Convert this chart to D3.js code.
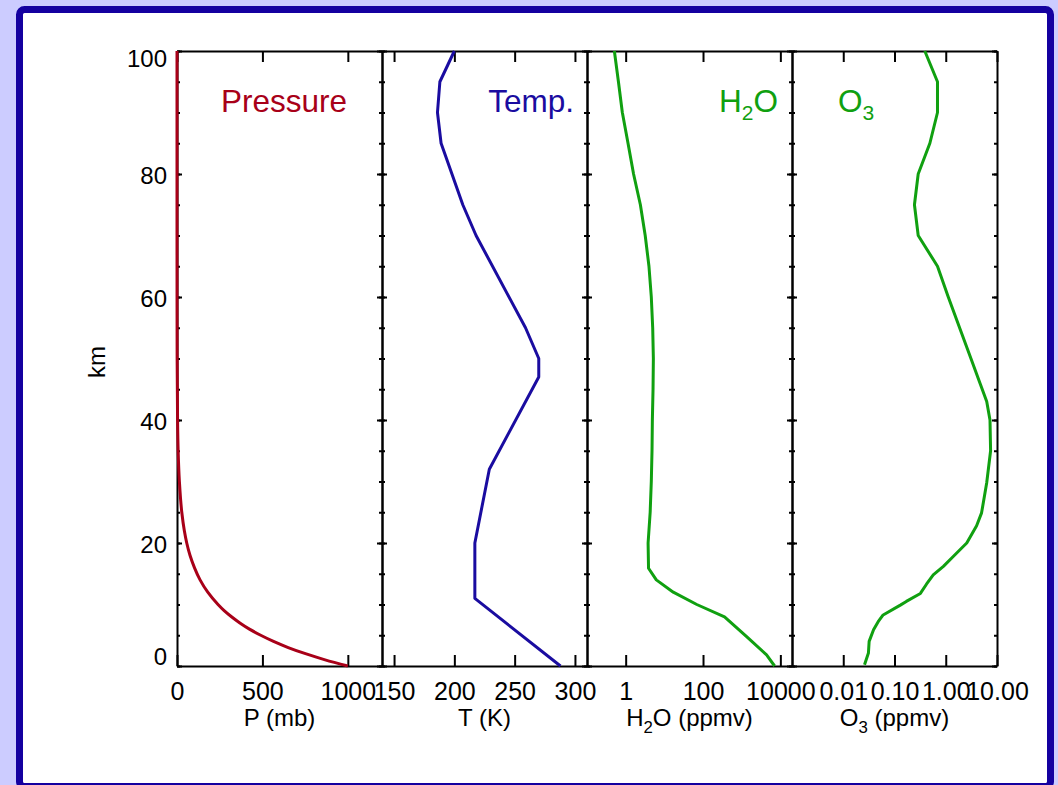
<!DOCTYPE html>
<html>
<head>
<meta charset="utf-8">
<script src="https://cdn.jsdelivr.net/npm/d3@7"></script>
<style>
  html, body { margin: 0; padding: 0; background: #ccccff; }
  svg { display: block; }
  text { font-family: "Liberation Sans", Arial, Helvetica, sans-serif; }
</style>
</head>
<body>
<svg id="chart" width="1058" height="785"></svg>
<script>
// ---------------- data ----------------
const altitude = [0, 100];                         // km range
const altTicks = [0, 20, 40, 60, 80, 100];
const altMinorTicks = d3.range(0, 101, 5);

// Pressure profile (mb) vs altitude (km)
const presAlt = [0, 1, 2, 3, 4, 5, 6, 7, 8, 9, 10, 12, 14, 16, 18, 20, 22, 25, 30, 35, 40, 50, 60, 70, 80, 90, 100];
const presVal = [1000, 867, 752, 651, 565, 490, 424, 368, 319, 276, 240, 180, 135, 102, 76, 57, 43, 28, 14, 6.7, 3.3, 0.8, 0.19, 0.05, 0.011, 0.0026, 0.0006];
const presTicks = [0, 500, 1000];
const presTickLabels = ["0", "500", "1000"];

// Temperature profile (K)
const tempAlt = [0, 11, 20, 32, 47, 50, 55, 70, 75, 85, 90, 95, 100];
const tempVal = [288, 217, 217, 229, 270, 270, 259, 218, 207, 189, 186, 188, 200];
const tempTicks = [150, 200, 250, 300];
const tempTickLabels = ["150", "200", "250", "300"];

// Water vapour (ppmv)
const h2oAlt = [0, 1.8, 4.8, 8, 10, 12, 14, 15.9, 20, 25, 30, 35, 40, 45, 50, 55, 60, 65, 70, 75, 80, 85, 90, 95, 100];
const h2oVal = [7100, 4400, 1320, 360, 69, 17, 6.2, 3.9, 3.8, 4.3, 4.6, 4.8, 4.9, 5.1, 5.2, 5.0, 4.6, 4.0, 3.2, 2.4, 1.6, 1.15, 0.82, 0.65, 0.51];
const h2oTicks = [1, 100, 10000];
const h2oTickLabels = ["1", "100", "10000"];

// Ozone (ppmv)
const o3Alt = [0.2, 2.1, 4, 5.9, 7.2, 8.3, 9.9, 10.5, 11.8, 13.3, 14.8, 16.2, 17.8, 20, 22.8, 24.9, 29.8, 35, 40, 43, 45.9, 50, 54.1, 60, 65, 70, 75, 80, 85, 90, 95, 100];
const o3Val = [0.026, 0.031, 0.032, 0.039, 0.048, 0.06, 0.13, 0.17, 0.32, 0.42, 0.57, 0.9, 1.4, 2.57, 4.0, 5.0, 6.3, 7.5, 7.3, 6.3, 4.7, 3.1, 2.04, 1.12, 0.69, 0.29, 0.245, 0.29, 0.49, 0.69, 0.69, 0.39];
const o3Ticks = [0.01, 0.1, 1, 10];
const o3TickLabels = ["0.01", "0.10", "1.00", "10.00"];

// ---------------- layout ----------------
const svg = d3.select("#chart");
const plotTop = 51, plotBottom = 666;
const edges = [177, 382, 587, 792, 997];

// frame
svg.append("rect").attr("x", 0).attr("y", 0).attr("width", 1058).attr("height", 785).attr("fill", "#ccccff");
svg.append("rect")
  .attr("x", 19.5).attr("y", 9.5).attr("width", 1031).attr("height", 777)
  .attr("rx", 5).attr("ry", 5)
  .attr("fill", "#ffffff").attr("stroke", "#1400a0").attr("stroke-width", 7);

const y = d3.scaleLinear().domain(altitude).range([plotBottom, plotTop]);

const panels = [
  { x: d3.scaleLinear().domain([0, 1200]), alt: presAlt, val: presVal, ticks: presTicks, labels: presTickLabels, color: "#a80018", curve: d3.curveMonotoneY },
  { x: d3.scaleLinear().domain([140, 310]), alt: tempAlt, val: tempVal, ticks: tempTicks, labels: tempTickLabels, color: "#1a0ca0", curve: d3.curveLinear },
  { x: d3.scaleLog().domain([0.1, 20000]), alt: h2oAlt, val: h2oVal, ticks: h2oTicks, labels: h2oTickLabels, color: "#10a010", curve: d3.curveLinear },
  { x: d3.scaleLog().domain([0.001, 10]), alt: o3Alt, val: o3Val, ticks: o3Ticks, labels: o3TickLabels, color: "#10a010", curve: d3.curveLinear }
];

panels.forEach((p, i) => {
  p.x.range([edges[i], edges[i + 1]]);
  const g = svg.append("g");

  // bottom axis with labels (ticks pointing up)
  const bAxis = d3.axisBottom(p.x).tickValues(p.ticks)
    .tickFormat((d, k) => p.labels[k]).tickSizeInner(-11).tickSizeOuter(0).tickPadding(16);
  const gb = g.append("g").attr("transform", `translate(0,${plotBottom})`).call(bAxis);
  gb.select(".domain").attr("stroke", "#000").attr("stroke-width", 2);
  gb.selectAll(".tick line").attr("stroke", "#000").attr("stroke-width", 2);
  gb.selectAll(".tick text").attr("font-size", 25).attr("fill", "#000");

  // top axis (ticks pointing down, no labels)
  const tAxis = d3.axisTop(p.x).tickValues(p.ticks).tickFormat("")
    .tickSizeInner(-11).tickSizeOuter(0);
  const gt = g.append("g").attr("transform", `translate(0,${plotTop})`).call(tAxis);
  gt.select(".domain").attr("stroke", "#000").attr("stroke-width", 2);
  gt.selectAll(".tick line").attr("stroke", "#000").attr("stroke-width", 2);

  // left and right y axes with inward major/minor ticks
  const sides = [
    { gen: d3.axisRight, x: edges[i] },
    { gen: d3.axisLeft, x: edges[i + 1] }
  ];
  sides.forEach(s => {
    const minor = s.gen(y).tickValues(altMinorTicks).tickFormat("").tickSizeInner(3).tickSizeOuter(0);
    const gm = g.append("g").attr("transform", `translate(${s.x},0)`).call(minor);
    gm.select(".domain").attr("stroke", "#000").attr("stroke-width", 2);
    gm.selectAll(".tick line").attr("stroke", "#000").attr("stroke-width", 2);
    const major = s.gen(y).tickValues(altTicks).tickFormat("").tickSizeInner(5).tickSizeOuter(0);
    const gM = g.append("g").attr("transform", `translate(${s.x},0)`).call(major);
    gM.select(".domain").remove();
    gM.selectAll(".tick line").attr("stroke", "#000").attr("stroke-width", 2);
  });
});

// y tick labels on the left
const yLab = d3.axisLeft(y).tickValues(altTicks).tickSize(0).tickPadding(10);
const gy = svg.append("g").attr("transform", `translate(${edges[0]},0)`).call(yLab);
gy.select(".domain").remove();
gy.selectAll(".tick text").attr("font-size", 24).attr("fill", "#000")
  .attr("dy", d => d === 0 ? "-0.05em" : (d === 100 ? "0.65em" : "0.38em"));

// curves drawn on top of axes
panels.forEach(p => {
  const pts = p.alt.map((a, k) => [p.val[k], a]);
  const line = d3.line().x(d => p.x(d[0])).y(d => y(d[1])).curve(p.curve);
  svg.append("path").datum(pts).attr("d", line)
    .attr("fill", "none").attr("stroke", p.color).attr("stroke-width", 3)
    .attr("stroke-linejoin", "round");
});

// y axis title
svg.append("text").attr("transform", "translate(105,362) rotate(-90)")
  .attr("text-anchor", "middle").attr("font-size", 24).text("km");

// x axis titles
const xTitleY = 726;
function titleWithSub(cx, parts, size) {
  const t = svg.append("text").attr("x", cx).attr("y", xTitleY)
    .attr("text-anchor", "middle").attr("font-size", size).attr("fill", "#000");
  parts.forEach(pt => {
    const ts = t.append("tspan").text(pt.t);
    if (pt.sub) ts.attr("font-size", size * 0.7).attr("dy", size * 0.28);
    if (pt.back) ts.attr("dy", -size * 0.28);
  });
  return t;
}
titleWithSub((edges[0] + edges[1]) / 2, [{ t: "P (mb)" }], 24);
titleWithSub((edges[1] + edges[2]) / 2, [{ t: "T (K)" }], 24);
titleWithSub((edges[2] + edges[3]) / 2, [{ t: "H" }, { t: "2", sub: true }, { t: "O (ppmv)", back: true }], 24);
titleWithSub((edges[3] + edges[4]) / 2, [{ t: "O" }, { t: "3", sub: true }, { t: " (ppmv)", back: true }], 24);

// in-panel labels
const labY = 112, labSize = 31.5;
svg.append("text").attr("x", 347).attr("y", labY).attr("text-anchor", "end")
  .attr("font-size", labSize).attr("fill", panels[0].color).text("Pressure");
svg.append("text").attr("x", 574).attr("y", labY).attr("text-anchor", "end")
  .attr("font-size", labSize).attr("fill", panels[1].color).text("Temp.");
const h2oLab = svg.append("text").attr("x", 778).attr("y", labY).attr("text-anchor", "end")
  .attr("font-size", labSize).attr("fill", panels[2].color);
h2oLab.append("tspan").text("H");
h2oLab.append("tspan").attr("font-size", 21).attr("dy", 8).text("2");
h2oLab.append("tspan").attr("dy", -8).text("O");
const o3Lab = svg.append("text").attr("x", 838).attr("y", labY).attr("text-anchor", "start")
  .attr("font-size", labSize).attr("fill", panels[3].color);
o3Lab.append("tspan").text("O");
o3Lab.append("tspan").attr("font-size", 21).attr("dy", 8).text("3");
</script>
</body>
</html>
